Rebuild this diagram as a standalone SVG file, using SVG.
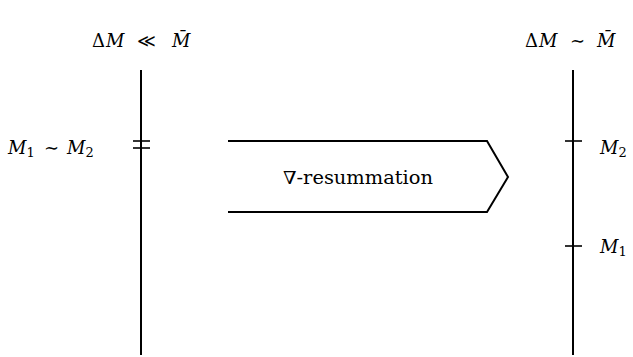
<svg xmlns="http://www.w3.org/2000/svg" width="633" height="357" viewBox="0 0 633 357">
<style>
.ln{stroke:#000;stroke-width:2;fill:none}
.tk{stroke:#000;stroke-width:1.6;fill:none}
.t{font-family:"DejaVu Serif",serif;font-size:18px;fill:#000}
.i{font-style:italic}
.s{font-size:13px}
</style>
<rect width="633" height="357" fill="#fff"/>
<g id="left-axis">
<line class="ln" x1="141" y1="70" x2="141" y2="355"/>
<line class="tk" x1="133" y1="141" x2="150" y2="141"/>
<line class="tk" x1="133" y1="148" x2="150" y2="148"/>
</g>
<g id="right-axis">
<line class="ln" x1="573" y1="70" x2="573" y2="355"/>
<line class="tk" x1="565" y1="141" x2="582" y2="141"/>
<line class="tk" x1="565" y1="246" x2="582" y2="246"/>
</g>
<g id="left-title"><text class="t" y="47"><tspan x="92">Δ</tspan><tspan class="i" x="106">M</tspan><tspan x="137">≪</tspan><tspan class="i" x="172">M̄</tspan></text></g>
<g id="right-title"><text class="t" y="47"><tspan x="525">Δ</tspan><tspan class="i" x="539">M</tspan><tspan x="570">∼</tspan><tspan class="i" x="597">M̄</tspan></text></g>
<g id="left-label"><text class="t" y="154"><tspan class="i" x="8">M</tspan><tspan class="s" dy="3">1</tspan><tspan x="44" dy="-3">∼</tspan><tspan class="i" x="67">M</tspan><tspan class="s" dy="3">2</tspan></text></g>
<g id="m2-label"><text class="t" x="600" y="154"><tspan class="i">M</tspan><tspan class="s" dy="3">2</tspan></text></g>
<g id="m1-label"><text class="t" x="600" y="253"><tspan class="i">M</tspan><tspan class="s" dy="3">1</tspan></text></g>
<g id="resummation">
<path class="ln" d="M228 141 H487 L508 177 L487 212 H228"/>
<text class="t" x="358" y="184" text-anchor="middle" textLength="150" lengthAdjust="spacingAndGlyphs">∇-resummation</text>
</g>
</svg>
